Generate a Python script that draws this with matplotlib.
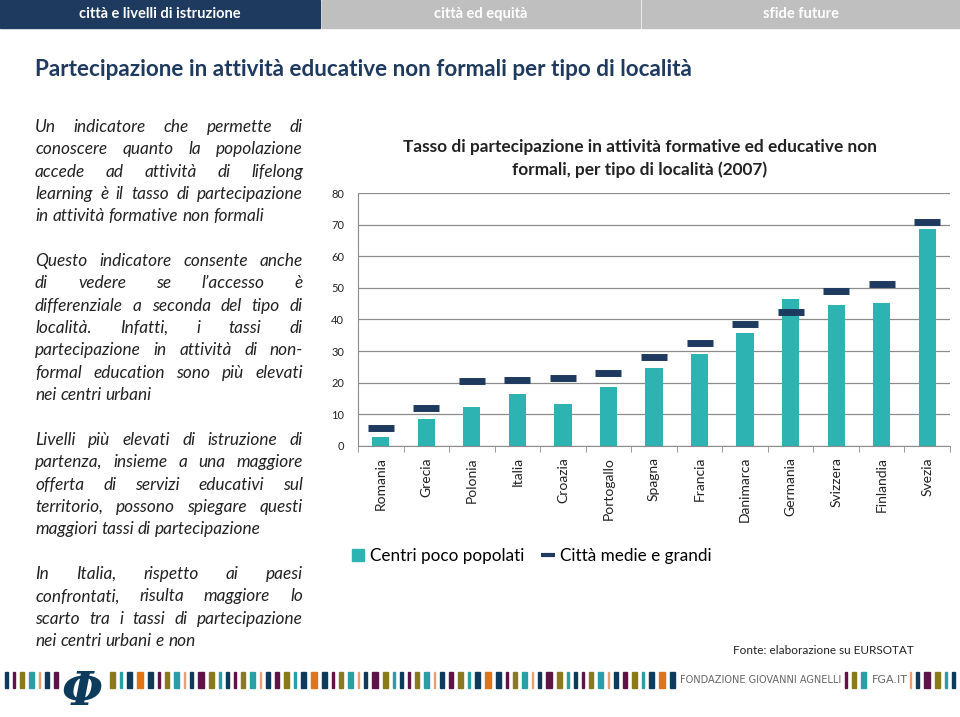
import matplotlib
matplotlib.use("Agg")
import matplotlib.pyplot as plt
from matplotlib.patches import Rectangle
from matplotlib.lines import Line2D

# data
paesi = ['Romania', 'Grecia', 'Polonia', 'Italia', 'Croazia', 'Portogallo', 'Spagna',
         'Francia', 'Danimarca', 'Germania', 'Svizzera', 'Finlandia', 'Svezia']
centri_poco_popolati = [3.0, 8.4, 12.2, 16.6, 13.3, 18.7, 24.8, 29.0, 35.6, 46.5, 44.7, 45.3, 68.6]
citta_medie_grandi = [5.8, 12.0, 20.7, 21.0, 21.5, 23.1, 28.3, 32.7, 38.7, 42.5, 49.1, 51.1, 70.8]
y_ticks = [0, 10, 20, 30, 40, 50, 60, 70, 80]

tabs = ['città e livelli di istruzione', 'città ed equità', 'sfide future']

paragrafi = [
    ["Un indicatore che permette di",
     "conoscere quanto la popolazione",
     "accede ad attività di lifelong",
     "learning è il tasso di partecipazione",
     "in attività formative non formali"],
    ["Questo indicatore consente anche",
     "di vedere se l’accesso è",
     "differenziale a seconda del tipo di",
     "località. Infatti, i tassi di",
     "partecipazione in attività di non-",
     "formal education sono più elevati",
     "nei centri urbani"],
    ["Livelli più elevati di istruzione di",
     "partenza, insieme a una maggiore",
     "offerta di servizi educativi sul",
     "territorio, possono spiegare questi",
     "maggiori tassi di partecipazione"],
    ["In Italia, rispetto ai paesi",
     "confrontati, risulta maggiore lo",
     "scarto tra i tassi di partecipazione",
     "nei centri urbani e non"],
]
paragrafi_y = [127, 261, 440, 574]

NAVY = '#1f3a5f'
TEAL = '#2db3b1'
GRAY = '#bfbfbf'
W, H = 960, 717

plt.rcParams['font.family'] = ['Lato', 'DejaVu Sans']

fig = plt.figure(figsize=(9.6, 7.17), dpi=100)
fig.patch.set_facecolor('white')


def fx(px):
    return px / W


def fy(py):
    return 1 - py / H


# header tabs
tab_x = [(0, 320), (322, 640), (642, 960)]
for i, (a, b) in enumerate(tab_x):
    col = NAVY if i == 0 else GRAY
    fig.patches.append(Rectangle((fx(a), fy(28)), fx(b - a), 28 / H, color=col,
                                 transform=fig.transFigure, figure=fig))
    fig.text(fx((a + b) / 2), fy(14), tabs[i], color='white', fontsize=10.5,
             fontweight='bold', ha='center', va='center')

fig.text(fx(35), fy(70), 'Partecipazione in attività educative non formali per tipo di località',
         color=NAVY, fontsize=16.2, fontweight='bold', ha='left', va='center')

# justified left column
renderer = fig.canvas.get_renderer()
x0, x1 = 35, 303
line_h = 22.3
FS = 12.4
probe = fig.text(0, 0, 'a a', fontsize=FS, style='italic')
probe2 = fig.text(0, 0, 'aa', fontsize=FS, style='italic')
space_w = probe.get_window_extent(renderer).width - probe2.get_window_extent(renderer).width
probe.remove()
probe2.remove()
for par, ystart in zip(paragrafi, paragrafi_y):
    for j, riga in enumerate(par):
        y = ystart + j * line_h
        words = riga.split(' ')
        objs = [fig.text(0, fy(y), w, fontsize=FS, style='italic', color='#222222',
                         ha='left', va='center') for w in words]
        widths = [o.get_window_extent(renderer).width for o in objs]
        if j == len(par) - 1 or len(words) == 1:
            sp = space_w
        else:
            sp = (x1 - x0 - sum(widths)) / (len(words) - 1)
        xc = x0
        for o, wd in zip(objs, widths):
            o.set_x(fx(xc))
            xc += wd + sp

# chart
ax = fig.add_axes([fx(358), fy(446), fx(950 - 358), (446 - 193) / H])
pos = list(range(len(paesi)))
ax.bar(pos, centri_poco_popolati, width=0.38, color=TEAL, zorder=2)
ax.plot(pos, citta_medie_grandi, linestyle='none', marker='_', markersize=19,
        markeredgewidth=5, color=NAVY, zorder=3)
ax.set_xlim(-0.5, len(paesi) - 0.5)
ax.set_ylim(0, 80)
ax.set_yticks(y_ticks)
ax.set_yticklabels([str(v) for v in y_ticks], fontsize=8, color='#222222')
ax.yaxis.grid(True, color='#8c8c8c', linewidth=0.9, zorder=0)
ax.set_axisbelow(True)
ax.set_xticks(pos)
ax.set_xticklabels(paesi, rotation=90, fontsize=10, color='#222222')
ax.tick_params(axis='x', length=0, pad=8)
ax.set_xticks([p - 0.5 for p in pos] + [len(paesi) - 0.5], minor=True)
ax.tick_params(axis='x', which='minor', length=4, color='#8c8c8c', direction='out')
ax.tick_params(axis='y', length=0, pad=10)
for s in ['top', 'right']:
    ax.spines[s].set_visible(False)
ax.spines['left'].set_color('#8c8c8c')
ax.spines['bottom'].set_color('#8c8c8c')

fig.text(fx(640), fy(147), 'Tasso di partecipazione in attività formative ed educative non',
         fontsize=12.4, fontweight='bold', color='#222222', ha='center', va='center')
fig.text(fx(640), fy(170), 'formali, per tipo di località (2007)',
         fontsize=12.4, fontweight='bold', color='#222222', ha='center', va='center')

handles = [Line2D([], [], linestyle='none', marker='s', markersize=9, color=TEAL),
           Line2D([], [], linestyle='none', marker='_', markersize=10, markeredgewidth=3, color=NAVY)]
fig.legend(handles, ['Centri poco popolati', 'Città medie e grandi'], loc='center left',
           bbox_to_anchor=(fx(336), fy(556)), ncol=2, frameon=False, fontsize=12.3,
           handlelength=0.8, handletextpad=0.3, columnspacing=1.0)

fig.text(fx(733), fy(650), 'Fonte: elaborazione su EURSOTAT', fontsize=8.5,
         color='#222222', ha='left', va='center')

# footer stripe
stripe = ['#0e3a5c', '#5e1446', '#8a7a1e', '#2a9da5', '#e8a070', '#0e3a5c', '#5e1446',
          '#8a7a1e', '#2a9da5', '#0e3a5c', '#e07418', '#0e3a5c', '#5e1446', '#8a7a1e',
          '#2a9da5', '#e8a070', '#0e3a5c', '#5e1446', '#8a7a1e', '#2a9da5']
stripe_w = [3, 2, 4, 5, 1, 4, 4, 5, 2, 5, 6, 5, 2, 4, 5, 1, 3, 6, 5, 2]
xs = 5
k = 0
while xs < 955:
    if 55 < xs < 110:
        xs = 110
        continue
    if 674 < xs < 845:
        xs = 845
        continue
    if 866 < xs < 910:
        xs = 910
        continue
    c = stripe[k % len(stripe)]
    wd = stripe_w[k % len(stripe_w)]
    fig.patches.append(Rectangle((fx(xs), fy(688)), fx(wd), 16 / H, color=c,
                                 transform=fig.transFigure, figure=fig))
    xs += wd + 5
    k += 1
fig.text(fx(680), fy(680), 'FONDAZIONE GIOVANNI AGNELLI', fontsize=8.5, color='#666666',
         ha='left', va='center', family=['Liberation Sans Narrow', 'DejaVu Sans'],
         fontstretch='condensed')
t = fig.texts[-1]
tw = t.get_window_extent(renderer).width
if tw > 160:
    t.set_fontsize(8.5 * 160 / tw)
fig.text(fx(872), fy(680), 'FGA.IT', fontsize=8, color='#666666',
         ha='left', va='center', family=['Liberation Sans Narrow', 'DejaVu Sans'])
fig.text(fx(82), fy(692), 'Φ', fontsize=34, color='#0e3a5c', style='italic',
         fontweight='bold', ha='center', va='center', family=['DejaVu Serif'])

fig.savefig('out.png', dpi=100)
